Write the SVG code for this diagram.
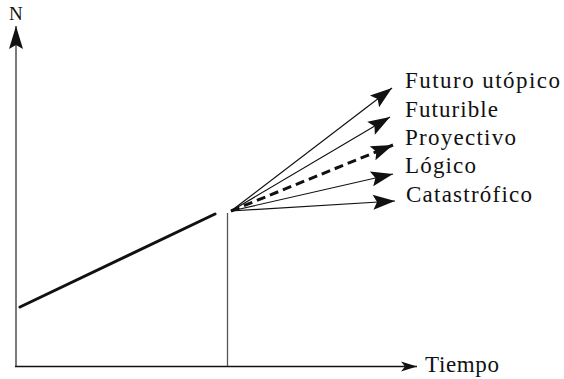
<svg xmlns="http://www.w3.org/2000/svg" width="564" height="379" viewBox="0 0 564 379">
<style>
.t{font-family:"Liberation Serif","Times New Roman",serif;font-size:23px;fill:#111}
.fan{stroke:#111;fill:none}
</style>
<defs>
<marker id="ah" markerUnits="userSpaceOnUse" viewBox="-23 -8 24 16" markerWidth="24" markerHeight="16" refX="0" refY="0" orient="auto">
<path d="M0,0 L-22,-7.5 L-18,0 L-22,7.5 Z" fill="#111"/>
</marker>
<marker id="ahy" markerUnits="userSpaceOnUse" viewBox="-24 -8 25 16" markerWidth="25" markerHeight="16" refX="0" refY="0" orient="auto">
<path d="M0,0 L-23,-7 L-19,0 L-23,7 Z" fill="#111"/>
</marker>
<marker id="ahx" markerUnits="userSpaceOnUse" viewBox="-17 -6 18 12" markerWidth="18" markerHeight="12" refX="0" refY="0" orient="auto">
<path d="M0,0 L-16,-5 L-12,0 L-16,5 Z" fill="#111"/>
</marker>
</defs>
<g id="axes">
<line x1="16" y1="367" x2="16" y2="26" stroke="#333" stroke-width="1.3" marker-end="url(#ahy)"/>
<line x1="15" y1="366.5" x2="417" y2="366.5" stroke="#111" stroke-width="1.6" marker-end="url(#ahx)"/>
<line x1="227.5" y1="213" x2="227.5" y2="366" stroke="#555" stroke-width="1.3"/>
<text class="t" x="9" y="20" style="font-size:19px">N</text>
<text class="t" x="425" y="372" textLength="74" lengthAdjust="spacing">Tiempo</text>
</g>
<g id="trend">
<line x1="20" y1="307" x2="215" y2="214" stroke="#111" stroke-width="3" stroke-linecap="round"/>
</g>
<g id="connectors">
<line class="fan" x1="231" y1="211" x2="392" y2="88" stroke-width="1.2" marker-end="url(#ah)"/>
<line class="fan" x1="231" y1="211" x2="390" y2="117" stroke-width="1.2" marker-end="url(#ah)"/>
<line class="fan" x1="231" y1="211" x2="393" y2="145" stroke-width="3" stroke-dasharray="9,5" marker-end="url(#ah)"/>
<line class="fan" x1="231" y1="211" x2="393" y2="174" stroke-width="1.2" marker-end="url(#ah)"/>
<line class="fan" x1="231" y1="211" x2="395" y2="201" stroke-width="1.2" marker-end="url(#ah)"/>
</g>
<g id="futuro-utopico"><text class="t" x="405" y="88" textLength="155" lengthAdjust="spacing">Futuro utópico</text></g>
<g id="futurible"><text class="t" x="405" y="117" textLength="93" lengthAdjust="spacing">Futurible</text></g>
<g id="proyectivo"><text class="t" x="405" y="145" textLength="111" lengthAdjust="spacing">Proyectivo</text></g>
<g id="logico"><text class="t" x="405" y="173" textLength="71" lengthAdjust="spacing">Lógico</text></g>
<g id="catastrofico"><text class="t" x="406" y="202" textLength="126" lengthAdjust="spacing">Catastrófico</text></g>
</svg>
